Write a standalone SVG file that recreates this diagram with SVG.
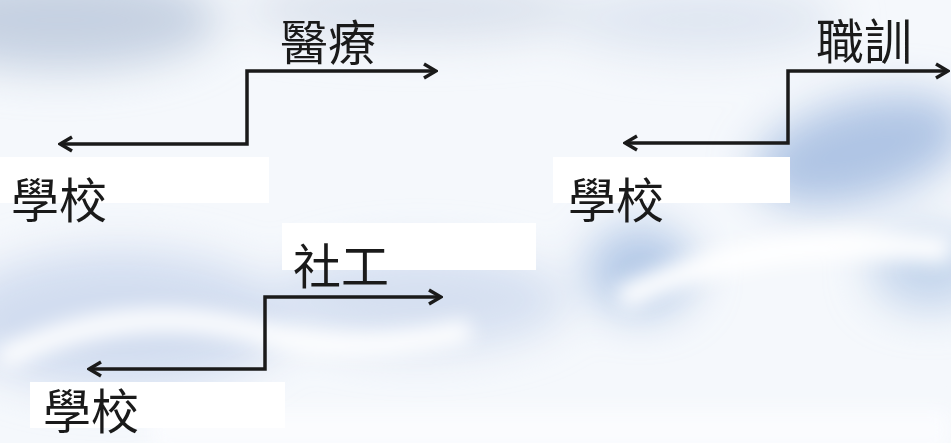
<svg xmlns="http://www.w3.org/2000/svg" width="951" height="443" viewBox="0 0 951 443">
<defs>
<style>
.lbl{font-family:"Noto Sans CJK TC","Noto Sans CJK SC",sans-serif;font-size:48px;fill:#1a1a1a}
.conn{fill:none;stroke:#1a1a1a;stroke-width:3.5;stroke-linejoin:miter}
.box{fill:#ffffff}
</style>
<filter id="blur" x="-50%" y="-50%" width="200%" height="200%"><feGaussianBlur stdDeviation="22"/></filter>
<filter id="blur2" x="-50%" y="-50%" width="200%" height="200%"><feGaussianBlur stdDeviation="10"/></filter>
<marker id="arr" viewBox="-14 -9 16 18" refX="0" refY="0" markerWidth="16" markerHeight="18" markerUnits="userSpaceOnUse" orient="auto-start-reverse">
<path d="M-12,-7 L0,0 L-12,7" fill="none" stroke="#1a1a1a" stroke-width="3.5" stroke-linejoin="miter"/>
</marker>
</defs>
<g id="background">
<rect x="0" y="0" width="951" height="443" fill="#f5f8fc"/>
<g filter="url(#blur)">
<ellipse cx="60" cy="20" rx="160" ry="50" fill="#c6d1e2"/>
<ellipse cx="420" cy="10" rx="180" ry="30" fill="#dae1ec"/>
<ellipse cx="120" cy="320" rx="170" ry="70" fill="#d2ddf0"/>
<ellipse cx="420" cy="300" rx="150" ry="50" fill="#d6e0f1"/>
<ellipse cx="640" cy="270" rx="55" ry="45" fill="#b4c9e7"/>
<ellipse cx="860" cy="150" rx="110" ry="50" fill="#afc4e4" transform="rotate(-15 860 150)"/>
<ellipse cx="930" cy="270" rx="60" ry="40" fill="#c4d5ec"/>
<ellipse cx="700" cy="20" rx="140" ry="35" fill="#dfe6f1"/>
</g>
<g filter="url(#blur2)">
<path d="M0,360 Q120,300 250,330 Q350,360 470,330" fill="none" stroke="#ffffff" stroke-width="22"/>
<path d="M620,300 Q760,230 950,250" fill="none" stroke="#ffffff" stroke-width="25"/>
<rect x="150" y="410" width="801" height="40" fill="#fbfcfe"/>
</g>
</g>
<g id="boxes">
<rect class="box" x="0" y="157" width="269" height="46"/>
<rect class="box" x="553" y="157" width="237" height="46"/>
<rect class="box" x="282" y="223" width="254" height="47"/>
<rect class="box" x="30" y="382" width="255" height="46"/>
</g>
<g id="connectors">
<polyline class="conn" points="60,144 247,144 247,71 436,71" marker-start="url(#arr)" marker-end="url(#arr)"/>
<polyline class="conn" points="625,143 788,143 788,71 948,71" marker-start="url(#arr)" marker-end="url(#arr)"/>
<polyline class="conn" points="89,369 265,369 265,297 441,297" marker-start="url(#arr)" marker-end="url(#arr)"/>
</g>
<g id="node-medical"><text class="lbl" x="280" y="60">醫療</text></g>
<g id="node-school-1"><text class="lbl" x="11" y="218">學校</text></g>
<g id="node-vocational"><text class="lbl" x="816" y="59">職訓</text></g>
<g id="node-school-2"><text class="lbl" x="568" y="218">學校</text></g>
<g id="node-social"><text class="lbl" x="293" y="284">社工</text></g>
<g id="node-school-3"><text class="lbl" x="43" y="429">學校</text></g>
</svg>
